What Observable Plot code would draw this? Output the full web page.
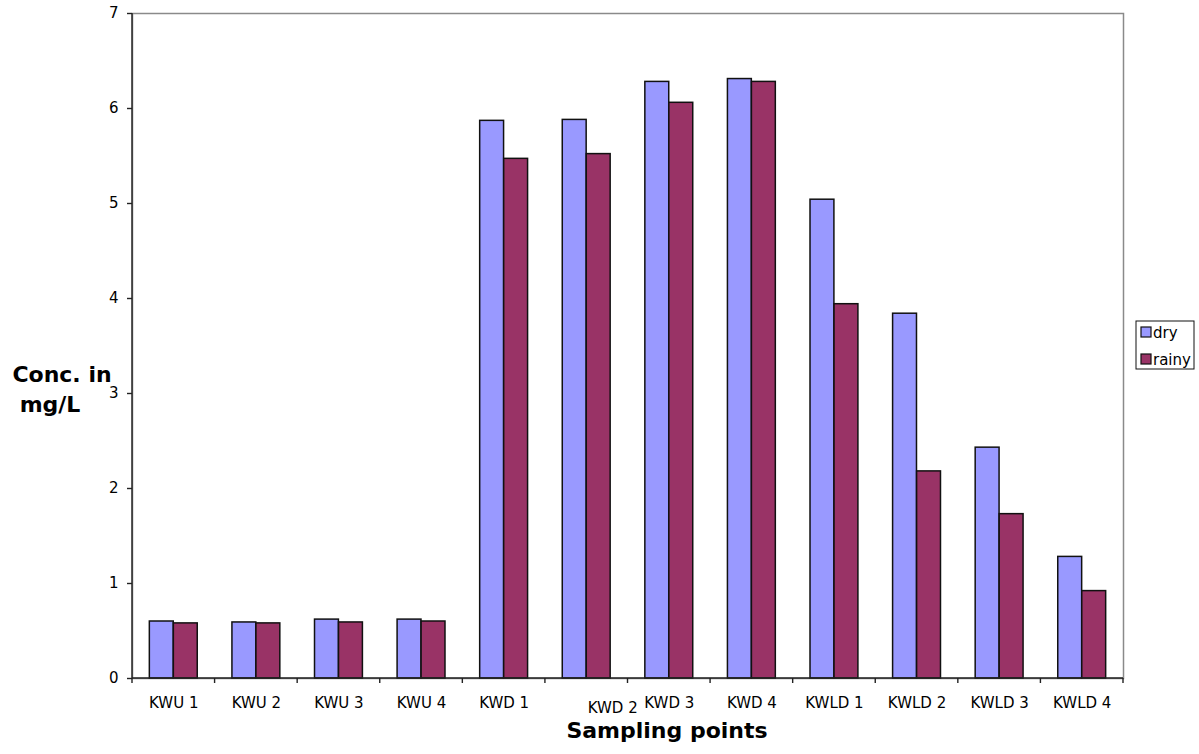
<!DOCTYPE html>
<html>
<head>
<meta charset="utf-8">
<script src="https://cdn.jsdelivr.net/npm/d3@7"></script>
<script src="https://cdn.jsdelivr.net/npm/@observablehq/plot@0.6"></script>
<style>
  html, body { margin: 0; padding: 0; background: #fff; }
  #chart { width: 1199px; height: 754px; }
</style>
</head>
<body>
<div id="chart"></div>
<script>
// Sampling points along the river, in order
const categories = ["KWU 1", "KWU 2", "KWU 3", "KWU 4", "KWD 1", "KWD 2", "KWD 3", "KWD 4", "KWLD 1", "KWLD 2", "KWLD 3", "KWLD 4"];
// Concentration (mg/L) per season
const dry   = [0.60, 0.59, 0.62, 0.62, 5.87, 5.88, 6.28, 6.31, 5.04, 3.84, 2.43, 1.28];
const rainy = [0.58, 0.58, 0.59, 0.60, 5.47, 5.52, 6.06, 6.28, 3.94, 2.18, 1.73, 0.92];
const seriesNames = ["dry", "rainy"];
const seriesColors = ["#9999FF", "#993366"];
const yTicks = [0, 1, 2, 3, 4, 5, 6, 7];

const dryRows = categories.map((site, i) => ({site, value: dry[i]}));
const rainyRows = categories.map((site, i) => ({site, value: rainy[i]}));

const FONT = "DejaVu Sans, Arial, sans-serif";

// Category axis: ticks on the band boundaries plus the dark left/bottom axis lines
function categoryAxis(index, scales, values, dimensions) {
  const {x, y} = scales;
  const bw = x.bandwidth();
  const step = x.step ? x.step() : bw / (1 - 0.42);
  const half = (step - bw) / 2;
  const y0 = y(0);
  const left = dimensions.marginLeft;
  const right = dimensions.width - dimensions.marginRight;
  const edges = categories.map(c => x(c) - half);
  edges.push(x(categories[categories.length - 1]) + bw + half);
  const g = d3.create("svg:g").attr("stroke", "#222").attr("stroke-width", 1.4).attr("fill", "none");
  g.selectAll("line.edge").data(edges).join("line")
    .attr("x1", d => d).attr("x2", d => d)
    .attr("y1", y0).attr("y2", y0 + 5);
  g.append("line").attr("x1", left).attr("x2", right).attr("y1", y0).attr("y2", y0);
  g.append("line").attr("x1", left).attr("x2", left).attr("y1", dimensions.marginTop).attr("y2", y0);
  return g.node();
}

const chart = Plot.plot({
  width: 1199,
  height: 754,
  marginLeft: 132,
  marginRight: 76,
  marginTop: 13,
  marginBottom: 76,
  style: {fontFamily: FONT, fontSize: "15px", color: "#000", background: "#fff"},
  x: {type: "band", domain: categories, paddingInner: 0.42, paddingOuter: 0.21, round: false, axis: null},
  y: {domain: [0, 7], axis: null},
  marks: [
    Plot.frame({stroke: "#8a8a8a", strokeWidth: 1.5}),
    Plot.barY(dryRows, {x: "site", y: "value", fill: seriesColors[0], stroke: "#111", strokeWidth: 1.5, insetRight: 24}),
    Plot.barY(rainyRows, {x: "site", y: "value", fill: seriesColors[1], stroke: "#111", strokeWidth: 1.5, insetLeft: 24}),
    Plot.axisY({ticks: yTicks, tickSize: 5, tickPadding: 9, stroke: "#222", strokeWidth: 1.4, fontSize: 15, label: null, tickFormat: d => d}),
    categoryAxis,
    Plot.text(categories.filter(c => c !== "KWD 2"), {x: d => d, y: 0, dy: 19, lineAnchor: "top", fontSize: 15, fill: "#000"}),
    Plot.text(["KWD 2"], {x: d => d, y: 0, dy: 24, dx: 26, lineAnchor: "top", fontSize: 15, fill: "#000"})
  ]
});

const svg = d3.select(chart);

// Axis titles
const titles = svg.append("g")
  .attr("font-family", FONT).attr("font-weight", "bold").attr("font-size", 22)
  .attr("fill", "#000").attr("text-anchor", "middle");
titles.append("text").attr("x", 62).attr("y", 382).text("Conc. in");
titles.append("text").attr("x", 50).attr("y", 412).text("mg/L");
titles.append("text").attr("x", 667).attr("y", 738).text("Sampling points");

// Legend
const legend = svg.append("g").attr("font-family", FONT).attr("font-size", 15)
  .attr("fill", "#000").attr("text-anchor", "start");
legend.append("rect").attr("x", 1136).attr("y", 321).attr("width", 58).attr("height", 48)
  .attr("fill", "#fff").attr("stroke", "#111").attr("stroke-width", 1);
seriesNames.forEach((name, i) => {
  const yy = 327 + i * 27;
  legend.append("rect").attr("x", 1141).attr("y", yy).attr("width", 10).attr("height", 10)
    .attr("fill", seriesColors[i]).attr("stroke", "#111").attr("stroke-width", 1.2);
  legend.append("text").attr("x", 1153).attr("y", yy + 10.5).text(name);
});

document.getElementById("chart").appendChild(chart);
</script>
</body>
</html>
